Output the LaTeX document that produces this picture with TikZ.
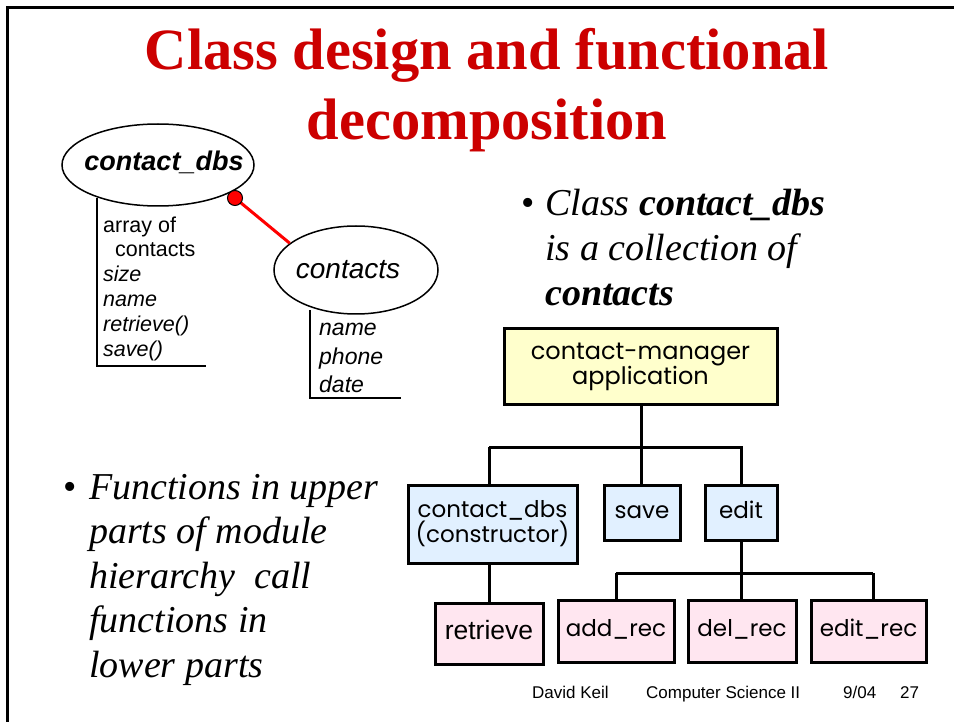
\documentclass[tikz,border=0pt]{standalone}
\usepackage{fontspec}
\setmainfont{Liberation Serif}
\newfontfamily\arialfont{Liberation Sans}
\newfontfamily\geofont{Poppins}
\usetikzlibrary{shapes.geometric}
\definecolor{titlered}{RGB}{204,0,0}
\definecolor{appyellow}{RGB}{255,255,204}
\definecolor{modblue}{RGB}{225,240,255}
\definecolor{leafpink}{RGB}{255,230,240}
\tikzset{
  titletext/.style={anchor=base, text=titlered, font=\fontsize{58.5}{70}\selectfont\bfseries, inner sep=0},
  bullettext/.style={anchor=base west, font=\fontsize{38}{44}\selectfont\itshape, inner sep=0},
  attrtext/.style={anchor=base west, font=\arialfont\fontsize{21.5}{25}\selectfont, inner sep=0},
  attrtextb/.style={anchor=base west, font=\arialfont\fontsize{23}{28}\selectfont\itshape, inner sep=0},
  classoval/.style={ellipse, draw, line width=1.5pt, inner sep=0},
  modbox/.style={rectangle, draw, line width=3pt, inner sep=0, align=center,
                 font=\geofont\fontsize{23}{25}\selectfont},
  oneline/.style={text height=16pt, text depth=5pt},
  treeline/.style={line width=3pt},
  attrline/.style={line width=2pt},
  foot/.style={anchor=base west, font=\arialfont\fontsize{17}{20}\selectfont, inner sep=0}
}
\begin{document}
\begin{tikzpicture}[x=1pt, y=-1pt]
\useasboundingbox (0,0) rectangle (954,722);
\fill[white] (0,0) rectangle (954,722);

% slide frame
\draw[line width=3pt] (7,722) -- (7,8) -- (954,8);

% title
\node[titletext] (title1) at (487,70) {Class design and functional};
\node[titletext] (title2) at (487,140) {decomposition};

% class diagram
\node[classoval, minimum width=192, minimum height=82] (ldb) at (158,165) {};
\node[font=\arialfont\fontsize{27}{30}\selectfont\bfseries\itshape, inner sep=0] (ldbtext) at (164,162) {contact\_dbs};
\node[classoval, minimum width=164, minimum height=88] (cts) at (356,270) {};
\node[font=\arialfont\fontsize{28}{30}\selectfont\itshape, inner sep=0] (ctstext) at (348,270) {contacts};

\coordinate (dotpt) at (235,198);
\draw[red, line width=3pt] (dotpt) -- (cts.158);
\fill[red] (dotpt) circle (7.5);
\draw[line width=1pt] (dotpt) circle (7.5);

% attributes of contact_dbs
\coordinate (la) at (97,198);
\coordinate (lb) at (97,366);
\coordinate (lc) at (206,366);
\draw[attrline] (la) -- (lb) -- (lc);
\node[attrtext] (l1) at (103,233) {array of};
\node[attrtext] (l2) at (115,257) {contacts};
\node[attrtext, font=\arialfont\fontsize{21.5}{25}\selectfont\itshape] (l3) at (103,282) {size};
\node[attrtext, font=\arialfont\fontsize{21.5}{25}\selectfont\itshape] (l4) at (103,307) {name};
\node[attrtext, font=\arialfont\fontsize{21.5}{25}\selectfont\itshape] (l5) at (103,331) {retrieve()};
\node[attrtext, font=\arialfont\fontsize{21.5}{25}\selectfont\itshape] (l6) at (103,356) {save()};

% attributes of contacts
\coordinate (ra) at (310,310);
\coordinate (rb) at (310,398);
\coordinate (rc) at (401,398);
\draw[attrline] (ra) -- (rb) -- (rc);
\node[attrtextb] (r1) at (319,336) {name};
\node[attrtextb] (r2) at (319,364) {phone};
\node[attrtextb] (r3) at (319,392) {date};

% bullet points
\node[bullettext, anchor=base east] (b1dot) at (535,216) {\upshape\textbullet};
\node[bullettext] (b1a) at (545,216) {Class \textbf{contact\_dbs}};
\node[bullettext] (b1b) at (545,261) {is a collection of};
\node[bullettext] (b1c) at (545,306) {\textbf{contacts}};

\node[bullettext, anchor=base east] (b2dot) at (77,499) {\upshape\textbullet};
\node[bullettext] (b2a) at (89,499) {Functions in upper};
\node[bullettext] (b2b) at (89,543) {parts of module};
\node[bullettext] (b2c) at (89,588) {hierarchy\ \ call};
\node[bullettext] (b2d) at (89,632) {functions in};
\node[bullettext] (b2e) at (89,677) {lower parts};

% module hierarchy
\node[modbox, fill=appyellow, minimum width=273, minimum height=75, font=\geofont\fontsize{24}{25}\selectfont] (app) at (640.5,366.5) {contact-manager\\application};
\node[modbox, fill=modblue, minimum width=169, minimum height=78] (cdb) at (492.5,524) {contact\_dbs\\(constructor)};
\node[modbox, oneline, fill=modblue, minimum width=76, minimum height=55] (save) at (642,512.5) {save};
\node[modbox, oneline, fill=modblue, minimum width=72, minimum height=55] (edit) at (741,512.5) {edit};
\node[modbox, oneline, fill=leafpink, minimum width=108, minimum height=61, font=\arialfont\fontsize{26.5}{27}\selectfont] (retr) at (489,633.5) {retrieve};
\node[modbox, oneline, fill=leafpink, minimum width=116, minimum height=62] (add) at (616,631) {add\_rec};
\node[modbox, oneline, fill=leafpink, minimum width=108, minimum height=62] (del) at (742,631) {del\_rec};
\node[modbox, oneline, fill=leafpink, minimum width=115, minimum height=62] (erec) at (868.5,631) {edit\_rec};

\coordinate (j1) at (641,447);
\coordinate (j1l) at (489,447);
\coordinate (j2) at (741,573);
\coordinate (j2l) at (616,573);
\coordinate (j2r) at (873,573);
\draw[treeline] (app.south -| j1) -- (j1);
\draw[treeline] (j1l) -- (j1) -| (edit.north);
\draw[treeline] (j1l) -- (cdb.north -| j1l);
\draw[treeline] (j1) -- (save.north -| j1);
\draw[treeline] (cdb.south -| retr.north) -- (retr.north);
\draw[treeline] (edit.south) -- (j2);
\draw[treeline] (j2l) -- (j2r);
\draw[treeline] (j2l) -- (add.north);
\draw[treeline] (j2) -- (del.north -| j2);
\draw[treeline] (j2r) -- (erec.north -| j2r);

% footer
\node[foot] (f1) at (532,698) {David Keil};
\node[foot] (f2) at (646,698) {Computer Science II};
\node[foot] (f3) at (843,698) {9/04};
\node[foot] (f4) at (900,698) {27};
\end{tikzpicture}
\end{document}
